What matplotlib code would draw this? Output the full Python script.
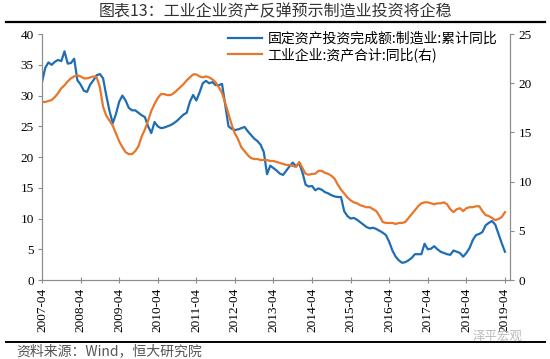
import matplotlib
matplotlib.use("Agg")
import matplotlib.pyplot as plt
import numpy as np

plt.rcParams['font.family'] = ['Noto Sans CJK SC', 'DejaVu Sans']

# monthly data, 2007-04 .. 2019-04
start_year, start_month = 2007, 4
# 固定资产投资完成额:制造业:累计同比 (left axis, %)
fai_mfg = [32.2, 34.5, 35.4, 35.0, 35.5, 35.8, 35.6, 37.2, 35.2, 35.3,
           36.0, 32.5, 31.8, 30.8, 30.6, 31.8, 32.5, 33.3, 33.5, 32.8,
           30.0, 27.5, 25.5, 27.0, 29.0, 30.0, 29.2, 28.0, 27.6, 27.6,
           27.2, 26.8, 26.5, 25.0, 23.9, 25.7, 25.0, 24.7, 24.8, 25.0,
           25.2, 25.5, 25.9, 26.4, 26.9, 27.2, 29.0, 30.1, 29.2, 30.5,
           32.0, 32.4, 32.0, 32.2, 31.7, 31.7, 31.9, 28.5, 25.0, 24.6,
           24.4, 24.5, 24.7, 24.9, 24.2, 23.6, 23.0, 22.6, 22.0, 20.8,
           17.2, 18.6, 18.2, 17.8, 17.3, 17.1, 17.8, 18.5, 19.1, 18.5,
           19.0, 17.5, 15.5, 15.2, 15.3, 14.6, 14.9, 14.7, 14.3, 14.1,
           13.8, 13.6, 13.5, 13.5, 11.2, 10.4, 10.0, 10.1, 9.8, 9.4,
           9.0, 8.6, 8.4, 8.5, 8.3, 8.0, 7.7, 7.3, 6.2, 4.8,
           3.8, 3.2, 2.8, 2.9, 3.2, 3.6, 4.2, 4.2, 4.2, 5.9,
           5.0, 5.1, 5.5, 5.0, 4.6, 4.4, 4.2, 4.1, 4.8, 4.6,
           4.4, 3.8, 4.4, 5.2, 6.5, 7.3, 7.5, 7.8, 8.9, 9.3,
           9.6, 9.0, 7.5, 6.0, 4.6]
# 工业企业:资产合计:同比 (right axis, %)
ind_assets = [18.1, 18.1, 18.2, 18.3, 18.6, 19.0, 19.5, 19.8, 20.2, 20.5,
              20.7, 20.8, 20.7, 20.5, 20.5, 20.6, 20.7, 20.6, 19.6, 17.6,
              16.7, 16.2, 15.7, 14.9, 14.1, 13.5, 13.0, 12.8, 12.8, 13.1,
              13.6, 14.6, 15.3, 16.2, 17.2, 17.9, 18.5, 18.9, 18.9, 18.8,
              18.8, 19.0, 19.3, 19.6, 19.9, 20.3, 20.6, 20.9, 20.9, 20.7,
              20.6, 20.7, 20.6, 20.4, 20.1, 19.6, 19.0, 18.0, 16.9, 15.8,
              14.9, 14.3, 13.5, 13.1, 12.7, 12.4, 12.3, 12.3, 12.2, 12.2,
              12.2, 12.1, 12.1, 12.0, 11.9, 11.8, 11.7, 11.7, 11.6, 11.5,
              12.0, 11.4, 10.8, 10.7, 10.8, 10.8, 11.1, 11.1, 10.9, 10.8,
              10.6, 10.3, 9.7, 9.2, 8.8, 8.4, 8.1, 7.9, 7.8, 7.6,
              7.5, 7.4, 7.4, 7.2, 7.0, 6.5, 5.9, 5.8, 5.8, 5.8,
              5.7, 5.8, 5.8, 5.9, 6.3, 6.7, 7.1, 7.5, 7.8, 7.9,
              7.9, 7.8, 7.7, 7.8, 7.8, 7.9, 7.7, 7.2, 6.9, 7.2,
              7.3, 7.0, 7.3, 7.4, 7.4, 7.5, 7.5, 7.0, 6.6, 6.5,
              6.3, 6.1, 6.2, 6.4, 6.9]

labels = ["固定资产投资完成额:制造业:累计同比", "工业企业:资产合计:同比(右)"]
title = "图表13：工业企业资产反弹预示制造业投资将企稳"
source = "资料来源：Wind，恒大研究院"

months = np.arange(len(fai_mfg))
tick_pos = months[::12]
tick_lab = ["%d-%02d" % (start_year + i, start_month) for i in range(len(tick_pos))]

blue = "#1f6db3"
orange = "#e8762b"
axis_gray = "#8c8c8c"
serif = ["Liberation Serif", "DejaVu Serif"]

fig = plt.figure(figsize=(5.5, 3.59), dpi=100)
ax = fig.add_axes([0.0764, 0.22, 0.851, 0.685])
ax2 = ax.twinx()

ax.plot(months, fai_mfg, color=blue, lw=1.6, label=labels[0])
ax2.plot(months, ind_assets, color=orange, lw=1.6, label=labels[1])

ax.set_xlim(0, len(fai_mfg) + 0.6)
ax.set_ylim(0, 40)
ax2.set_ylim(0, 25)
ax.set_yticks(np.arange(0, 41, 5))
ax2.set_yticks(np.arange(0, 26, 5))
ax.set_xticks(tick_pos)
ax.set_xticklabels(tick_lab, rotation=90, family=serif, fontsize=9.5)
for t in ax.get_yticklabels() + ax2.get_yticklabels():
    t.set_family(serif)
    t.set_fontsize(9.5)

for a in (ax, ax2):
    a.spines["top"].set_visible(False)
    for s in ("left", "right", "bottom"):
        a.spines[s].set_color(axis_gray)
        a.spines[s].set_linewidth(0.8)
    a.tick_params(length=3, width=0.8, color=axis_gray, pad=3)
ax.tick_params(axis="x", direction="inout", length=5)

h1, l1 = ax.get_legend_handles_labels()
h2, l2 = ax2.get_legend_handles_labels()
ax.legend(h1 + h2, l1 + l2, loc="upper right", bbox_to_anchor=(0.99, 1.045),
          frameon=False, fontsize=10, handlelength=2.4, handletextpad=0.4,
          labelspacing=0.15, borderaxespad=0.2)

fig.text(0.5, 0.968, title, ha="center", va="center", fontsize=11.5, color="#333333")
fig.add_artist(plt.Line2D([0.01, 0.99], [0.938, 0.938], color="black", lw=1.6))
fig.add_artist(plt.Line2D([0.01, 0.99], [0.048, 0.048], color="black", lw=1.4))
fig.text(0.03, 0.022, source, ha="left", va="center", fontsize=10,
         style="italic", color="#555555")
fig.text(0.95, 0.062, "泽平宏观", ha="right", va="center", fontsize=9,
         color="#bbbbbb")

fig.savefig("out.png", dpi=100)
